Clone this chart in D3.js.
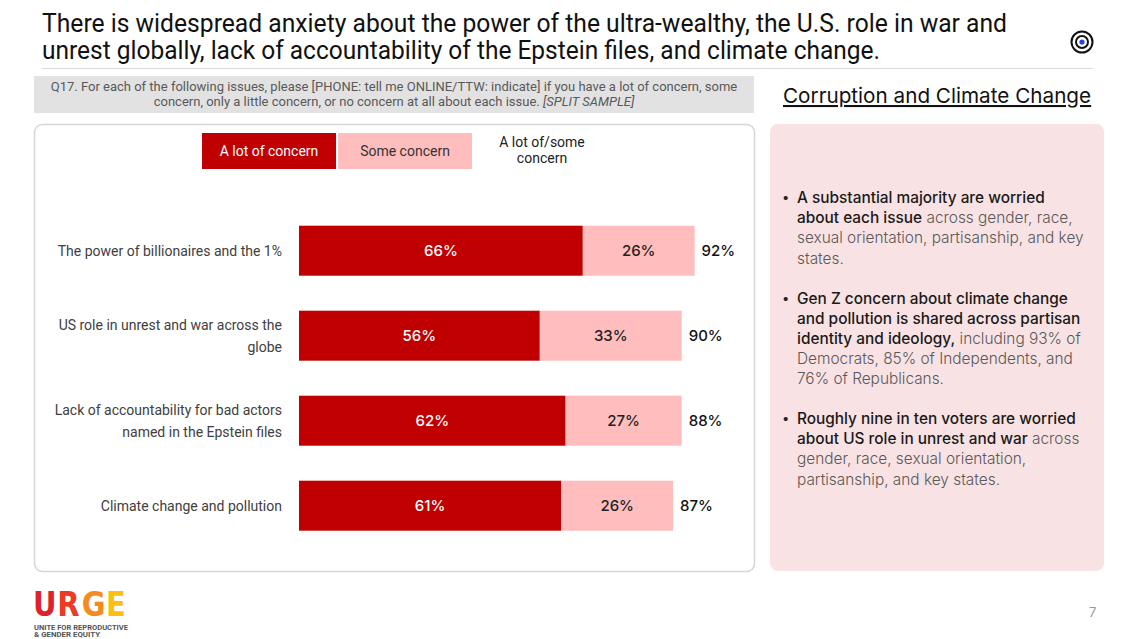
<!DOCTYPE html>
<html>
<head>
<meta charset="utf-8">
<script src="https://cdn.jsdelivr.net/npm/d3@7"></script>
<style>
  body { margin: 0; background: #fff; }
  svg { display: block; }
</style>
</head>
<body>
<div id="chart"></div>
<script>
// data
const categories = [
  "The power of billionaires and the 1%",
  "US role in unrest and war across the globe",
  "Lack of accountability for bad actors named in the Epstein files",
  "Climate change and pollution"
];
const labelLines = [
  ["The power of billionaires and the 1%"],
  ["US role in unrest and war across the", "globe"],
  ["Lack of accountability for bad actors", "named in the Epstein files"],
  ["Climate change and pollution"]
];
const aLot = [66, 56, 62, 61];
const some = [26, 33, 27, 26];
const total = [92, 90, 88, 87];
const legendLabels = ["A lot of concern", "Some concern"];

const titleLines = [
  "There is widespread anxiety about the power of the ultra-wealthy, the U.S. role in war and",
  "unrest globally, lack of accountability of the Epstein files, and climate change."
];
const questionLines = [
  "Q17. For each of the following issues, please [PHONE: tell me ONLINE/TTW: indicate] if you have a lot of concern, some",
  "concern, only a little concern, or no concern at all about each issue. "
];
// each bullet: lines of [text, bold?] pieces
const bullets = [
  [
    [["A substantial majority are worried", true]],
    [["about each issue", true], [" across gender, race,", false]],
    [["sexual orientation, partisanship, and key", false]],
    [["states.", false]]
  ],
  [
    [["Gen Z concern about climate change", true]],
    [["and pollution is shared across partisan", true]],
    [["identity and ideology,", true], [" including 93% of", false]],
    [["Democrats, 85% of Independents, and", false]],
    [["76% of Republicans.", false]]
  ],
  [
    [["Roughly nine in ten voters are worried", true]],
    [["about US role in unrest and war", true], [" across", false]],
    [["gender, race, sexual orientation,", false]],
    [["partisanship, and key states.", false]]
  ]
];

const W = 1140, H = 639;
const dark = "#c00000", light = "#ffbdbd";
const narrow = "'Liberation Sans Narrow', 'Roboto', sans-serif";
const sans = "Inter, 'Noto Sans', sans-serif";

const svg = d3.select("#chart").append("svg")
  .attr("width", W).attr("height", H);

// title
svg.append("g").selectAll("text")
  .data(titleLines)
  .enter().append("text")
  .attr("x", 42)
  .attr("y", (d, i) => 32 + i * 27)
  .attr("textLength", (d, i) => i == 0 ? 965 : 838)
  .attr("lengthAdjust", "spacingAndGlyphs")
  .style("font-family", narrow)
  .style("font-size", "25px")
  .style("fill", "#111")
  .text(d => d);

svg.append("line")
  .attr("x1", 42).attr("x2", 1093).attr("y1", 68.5).attr("y2", 68.5)
  .style("stroke", "#d9d9d9").style("stroke-width", 1);

// target icon
const icon = svg.append("g").attr("transform", "translate(1082,42)");
icon.append("circle").attr("r", 10.5).style("fill", "none").style("stroke", "#111").style("stroke-width", 2);
icon.append("circle").attr("r", 6).style("fill", "none").style("stroke", "#111").style("stroke-width", 2);
icon.append("circle").attr("r", 2.6).style("fill", "#2244ee");

// question box
svg.append("rect")
  .attr("x", 34).attr("y", 76).attr("width", 720).attr("height", 37)
  .style("fill", "#e2e2e2");
const q = svg.append("g").selectAll("text")
  .data(questionLines)
  .enter().append("text")
  .attr("x", 394)
  .attr("y", (d, i) => 91 + i * 15)
  .attr("text-anchor", "middle")
  .style("font-family", narrow)
  .style("font-size", "13px")
  .style("fill", "#595959")
  .text(d => d);
q.filter((d, i) => i == 1).append("tspan")
  .style("font-style", "italic")
  .text("[SPLIT SAMPLE]");

// chart frame
svg.append("rect")
  .attr("x", 34.5).attr("y", 124.5).attr("width", 720).attr("height", 447)
  .attr("rx", 8)
  .style("fill", "#fff").style("stroke", "#d6d6d6").style("stroke-width", 1.5);

// legend
const legend = svg.append("g");
legendLabels.forEach((lab, i) => {
  legend.append("rect")
    .attr("x", 202 + i * 136).attr("y", 133).attr("width", 134).attr("height", 36)
    .style("fill", i == 0 ? dark : light);
  legend.append("text")
    .attr("x", 269 + i * 136).attr("y", 156)
    .attr("text-anchor", "middle")
    .style("font-family", narrow).style("font-size", "14px")
    .style("fill", i == 0 ? "#fff" : "#333")
    .text(lab);
});
legend.append("text")
  .attr("x", 542).attr("y", 147)
  .attr("text-anchor", "middle")
  .style("font-family", narrow).style("font-size", "14px").style("fill", "#222")
  .selectAll("tspan")
  .data(["A lot of/some", "concern"])
  .enter().append("tspan")
  .attr("x", 542)
  .attr("dy", (d, i) => i == 0 ? 0 : 16)
  .text(d => d);

// scales
const x0 = 299;
const x = d3.scaleLinear().domain([0, 100]).range([x0, x0 + 430]);
const y = d3.scaleBand().domain(categories).range([190.7, 565.7]).padding(0.4118);

const rows = categories.map((c, i) => ({
  cat: c, lines: labelLines[i], aLot: aLot[i], some: some[i], total: total[i]
}));

const bars = svg.append("g").attr("id", "bars")
  .selectAll("g")
  .data(rows)
  .enter().append("g");

bars.append("rect")
  .attr("x", x(0))
  .attr("y", d => y(d.cat))
  .attr("width", d => x(d.aLot) - x(0))
  .attr("height", y.bandwidth())
  .style("fill", dark);

bars.append("rect")
  .attr("x", d => x(d.aLot))
  .attr("y", d => y(d.cat))
  .attr("width", d => x(d.aLot + d.some) - x(d.aLot))
  .attr("height", y.bandwidth())
  .style("fill", light);

bars.append("text")
  .attr("x", d => (x(0) + x(d.aLot)) / 2)
  .attr("y", d => y(d.cat) + y.bandwidth() / 2 + 5.5)
  .attr("text-anchor", "middle")
  .style("font-family", sans).style("font-size", "15px").style("font-weight", 500)
  .style("fill", "#fff")
  .text(d => d.aLot + "%");

bars.append("text")
  .attr("x", d => (x(d.aLot) + x(d.aLot + d.some)) / 2)
  .attr("y", d => y(d.cat) + y.bandwidth() / 2 + 5.5)
  .attr("text-anchor", "middle")
  .style("font-family", sans).style("font-size", "15px").style("font-weight", 500)
  .style("fill", "#222")
  .text(d => d.some + "%");

bars.append("text")
  .attr("x", d => x(d.aLot + d.some) + 7)
  .attr("y", d => y(d.cat) + y.bandwidth() / 2 + 5.5)
  .style("font-family", sans).style("font-size", "15px").style("font-weight", 500)
  .style("fill", "#111")
  .text(d => d.total + "%");

// category labels
bars.append("text")
  .attr("text-anchor", "end")
  .style("font-family", narrow).style("font-size", "14px")
  .style("fill", "#404040")
  .each(function(d) {
    const cy = y(d.cat) + y.bandwidth() / 2;
    const n = d.lines.length;
    d3.select(this).selectAll("tspan")
      .data(d.lines)
      .enter().append("tspan")
      .attr("x", 282)
      .attr("y", (l, i) => cy + 5 + (i - (n - 1) / 2) * 22)
      .text(l => l);
  });

// right side heading
svg.append("text")
  .attr("x", 783).attr("y", 103)
  .style("font-family", sans).style("font-size", "20.7px")
  .style("fill", "#111")
  .style("text-decoration", "underline")
  .text("Corruption and Climate Change");

// right panel
svg.append("rect")
  .attr("x", 770).attr("y", 124).attr("width", 334).attr("height", 447)
  .attr("rx", 8)
  .style("fill", "#f8e2e3");

const firstBase = [203, 303.5, 424];
const panel = svg.append("g");
bullets.forEach((b, bi) => {
  panel.append("text")
    .attr("x", 782).attr("y", firstBase[bi] - 1)
    .style("font-family", sans).style("font-size", "13px").style("fill", "#222")
    .text("•");
  b.forEach((line, li) => {
    const t = panel.append("text")
      .attr("x", 797).attr("y", firstBase[bi] + li * 20.2)
      .style("font-family", sans).style("font-size", "15.4px");
    t.selectAll("tspan")
      .data(line)
      .enter().append("tspan")
      .style("font-weight", p => p[1] ? 500 : 300)
      .style("fill", p => p[1] ? "#1a1a1a" : "#595959")
      .text(p => p[0]);
  });
});

// logo
const logo = svg.append("g");
const letters = [["U", "#e0202a"], ["R", "#ec3a24"], ["G", "#f58a1f"], ["E", "#fbbf12"]];
const lx = d3.scalePoint().domain(letters.map(l => l[0])).range([33, 106]);
logo.append("g")
  .attr("transform", "translate(0,616) scale(1,1.18) translate(0,-616)")
  .selectAll("text.l")
  .data(letters)
  .enter().append("text")
  .attr("class", "l")
  .attr("x", d => lx(d[0]))
  .attr("y", 616)
  .style("font-family", "'DejaVu Sans', sans-serif")
  .style("font-weight", 900)
  .style("font-size", "29px")
  .style("fill", d => d[1])
  .text(d => d[0]);
logo.selectAll("text.s")
  .data(["UNITE FOR REPRODUCTIVE", "& GENDER EQUITY"])
  .enter().append("text")
  .attr("class", "s")
  .attr("x", 34)
  .attr("y", (d, i) => 629.5 + i * 7)
  .attr("textLength", (d, i) => i == 0 ? 94 : 66)
  .attr("lengthAdjust", "spacingAndGlyphs")
  .style("font-family", narrow).style("font-size", "6.5px").style("font-weight", 700)
  .style("fill", "#555")
  .text(d => d);

// page number
svg.append("text")
  .attr("x", 1089).attr("y", 617)
  .style("font-family", sans).style("font-size", "13px").style("fill", "#999")
  .text("7");
</script>
</body>
</html>
